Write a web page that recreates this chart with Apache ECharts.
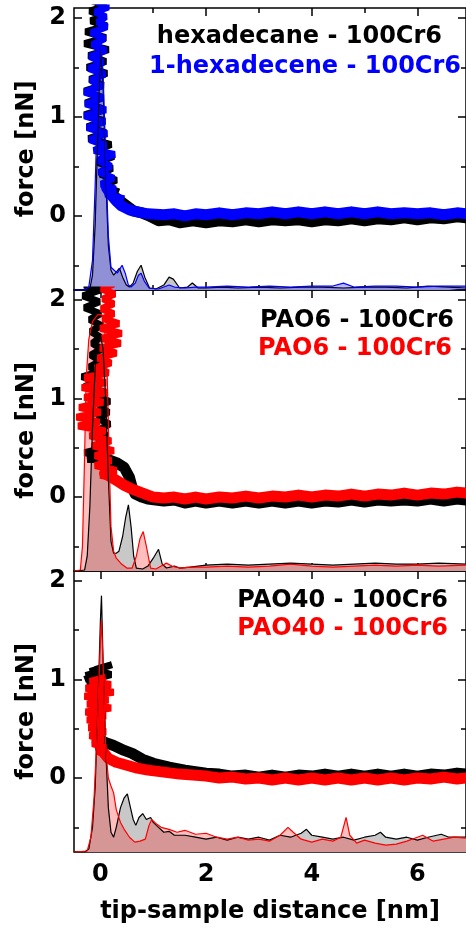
<!DOCTYPE html>
<html><head><meta charset="utf-8">
<script src="https://cdn.jsdelivr.net/npm/echarts@6/dist/echarts.min.js"></script>
<style>html,body{margin:0;padding:0;background:#fff}#c{width:466px;height:929px}</style>
</head><body><div id="c"></div>
<script>
// ---- tick values ----
const xMajorTicks = [0, 2, 4, 6];
const xMinorTicks = [1, 3, 5];
const yMajorTicks = [0, 1, 2];
const yMinorTicks = [-0.5, 0.5, 1.5];

// ---- panel titles ----
const panelLabels = [
  ['hexadecane - 100Cr6', '1-hexadecene - 100Cr6'],
  ['PAO6 - 100Cr6', 'PAO6 - 100Cr6'],
  ['PAO40 - 100Cr6', 'PAO40 - 100Cr6']
];

// ---- force-distance curves [distance nm, force nN] ----
// steep part: noisy scribble near contact; flat part: ribbon at larger distance
const hexForceSteep = [[0.05,2.2],[-0.15,2.17],[0.1,2.12],[-0.2,2.07],[0.05,2.02],[-0.18,1.97],[0.12,1.92],[-0.28,1.86],[0.1,1.8],[-0.3,1.74],[0.15,1.68],[-0.22,1.62],[0.1,1.56],[-0.25,1.5],[0.12,1.44],[-0.2,1.38],[0.05,1.32],[-0.3,1.26],[0.02,1.2],[-0.28,1.14],[0.05,1.08],[-0.3,1.02],[0.08,0.96],[-0.25,0.9],[0.1,0.84],[-0.22,0.78],[0.2,0.72],[-0.08,0.66],[0.25,0.6],[-0.05,0.54],[0.22,0.48],[0.0,0.42],[0.3,0.36],[0.05,0.3],[0.35,0.24]];
const hexForceFlat = [[0.12,0.32],[0.25,0.2],[0.4,0.14],[0.55,0.08],[0.62,0.05],[0.78,0.03],[0.92,0.0],[1.1,-0.05],[1.3,-0.04],[1.5,-0.07],[1.75,-0.05],[2.0,-0.07],[2.25,-0.05],[2.5,-0.06],[2.75,-0.04],[3.0,-0.06],[3.25,-0.04],[3.5,-0.05],[3.75,-0.04],[4.0,-0.06],[4.25,-0.04],[4.5,-0.05],[4.75,-0.03],[5.0,-0.05],[5.25,-0.03],[5.5,-0.04],[5.75,-0.02],[6.0,-0.04],[6.25,-0.02],[6.5,-0.03],[6.75,-0.01],[6.92,-0.02]];
const hexeneForceSteep = [[0.12,2.2],[-0.08,2.16],[0.15,2.11],[-0.1,2.06],[0.1,2.01],[-0.05,1.96],[0.12,1.91],[-0.17,1.85],[0.08,1.79],[-0.15,1.73],[0.1,1.67],[-0.2,1.61],[0.05,1.55],[-0.22,1.49],[0.08,1.43],[-0.18,1.37],[0.02,1.31],[-0.3,1.25],[0.05,1.19],[-0.28,1.13],[0.1,1.07],[-0.3,1.01],[0.08,0.95],[-0.25,0.89],[0.12,0.83],[-0.2,0.77],[0.1,0.71],[-0.12,0.66],[0.27,0.62],[-0.05,0.56],[0.2,0.5],[-0.02,0.44],[0.25,0.38],[0.02,0.32],[0.28,0.27],[0.1,0.22],[0.45,0.17]];
const hexeneForceFlat = [[0.12,0.28],[0.22,0.2],[0.3,0.15],[0.4,0.1],[0.55,0.06],[0.7,0.04],[0.9,0.02],[1.2,0.01],[1.4,0.02],[1.6,0.0],[1.8,0.02],[2.0,0.01],[2.25,0.03],[2.5,0.01],[2.75,0.03],[3.0,0.02],[3.25,0.04],[3.5,0.02],[3.75,0.04],[4.0,0.02],[4.25,0.04],[4.5,0.02],[4.75,0.04],[5.0,0.02],[5.25,0.04],[5.5,0.02],[5.75,0.03],[6.0,0.02],[6.25,0.03],[6.5,0.01],[6.75,0.03],[6.92,0.02]];
const pao6ForceBlackSteep = [[-0.05,2.2],[-0.3,2.15],[0.0,2.1],[-0.33,2.04],[-0.02,1.98],[-0.3,1.92],[0.0,1.86],[-0.2,1.8],[0.02,1.74],[-0.18,1.68],[0.0,1.62],[-0.15,1.56],[0.02,1.5],[-0.18,1.44],[0.0,1.38],[-0.2,1.32],[-0.02,1.27],[-0.35,1.22],[-0.05,1.17],[-0.3,1.12],[0.05,1.07],[-0.05,1.02],[0.17,0.97],[-0.03,0.92],[0.15,0.86],[-0.05,0.8],[0.17,0.74],[-0.02,0.68],[0.12,0.62],[-0.05,0.56],[0.1,0.5],[-0.3,0.45],[0.05,0.41],[-0.25,0.38],[0.1,0.38]];
const pao6ForceBlackFlat = [[0.0,0.4],[0.15,0.38],[0.3,0.35],[0.45,0.3],[0.55,0.2],[0.6,0.1],[0.66,0.03],[0.78,0.0],[0.9,-0.02],[1.2,-0.04],[1.4,-0.03],[1.6,-0.06],[1.8,-0.04],[2.0,-0.06],[2.25,-0.04],[2.5,-0.06],[2.75,-0.04],[3.0,-0.06],[3.25,-0.04],[3.5,-0.06],[3.75,-0.04],[4.0,-0.06],[4.25,-0.04],[4.5,-0.05],[4.75,-0.03],[5.0,-0.05],[5.25,-0.03],[5.5,-0.04],[5.75,-0.03],[6.0,-0.04],[6.25,-0.02],[6.5,-0.04],[6.75,-0.02],[6.92,-0.03]];
const pao6ForceRedSteep = [[0.1,2.2],[0.25,2.16],[0.02,2.11],[0.27,2.06],[0.05,2.01],[0.25,1.96],[0.02,1.91],[0.25,1.86],[0.05,1.81],[0.35,1.76],[0.0,1.71],[0.4,1.66],[0.02,1.61],[0.38,1.56],[0.0,1.51],[0.3,1.46],[-0.05,1.41],[0.2,1.36],[-0.1,1.31],[0.15,1.26],[-0.3,1.21],[0.1,1.16],[-0.35,1.11],[0.12,1.06],[-0.3,1.01],[0.05,0.96],[-0.4,0.91],[0.0,0.86],[-0.45,0.81],[-0.02,0.76],[-0.42,0.72],[0.1,0.67],[-0.2,0.62],[0.2,0.57],[-0.15,0.52],[0.25,0.47],[-0.1,0.42],[0.2,0.37],[-0.1,0.32],[0.3,0.27],[0.0,0.22],[0.3,0.19]];
const pao6ForceRedFlat = [[0.08,0.24],[0.3,0.17],[0.45,0.12],[0.6,0.08],[0.8,0.04],[1.0,0.0],[1.2,-0.01],[1.4,0.0],[1.6,-0.02],[1.8,0.0],[2.0,-0.02],[2.25,0.0],[2.5,-0.01],[2.75,0.01],[3.0,-0.01],[3.25,0.01],[3.5,0.0],[3.75,0.02],[4.0,0.0],[4.25,0.02],[4.5,0.01],[4.75,0.03],[5.0,0.01],[5.25,0.03],[5.5,0.02],[5.75,0.04],[6.0,0.02],[6.25,0.04],[6.5,0.03],[6.75,0.05],[6.92,0.04]];
const pao40ForceBlackSteep = [[-0.3,1.0],[0.0,1.06],[-0.28,1.04],[0.1,1.1],[-0.2,1.08],[0.22,1.15],[-0.1,1.1],[0.2,1.05],[-0.25,0.98],[0.18,0.94],[-0.22,0.9],[0.05,0.86],[-0.2,0.82],[0.02,0.77],[-0.18,0.72],[0.0,0.67],[-0.2,0.62],[0.02,0.57],[-0.15,0.52],[0.05,0.47],[-0.12,0.42],[0.1,0.38]];
const pao40ForceBlackFlat = [[-0.05,0.4],[0.1,0.36],[0.25,0.33],[0.45,0.28],[0.6,0.25],[0.8,0.19],[1.0,0.15],[1.3,0.11],[1.6,0.08],[2.0,0.05],[2.25,0.04],[2.5,0.02],[2.75,0.03],[3.0,0.01],[3.25,0.03],[3.5,0.01],[3.75,0.03],[4.0,0.02],[4.25,0.04],[4.5,0.02],[4.75,0.04],[5.0,0.02],[5.25,0.04],[5.5,0.02],[5.75,0.04],[6.0,0.02],[6.25,0.04],[6.5,0.03],[6.75,0.05],[6.92,0.04]];
const pao40ForceRedSteep = [[0.1,1.02],[-0.2,0.98],[0.2,0.95],[-0.28,0.91],[0.25,0.87],[-0.3,0.83],[0.15,0.79],[-0.25,0.75],[0.2,0.71],[-0.28,0.67],[0.1,0.63],[-0.25,0.59],[0.08,0.55],[-0.22,0.51],[0.1,0.47],[-0.2,0.43],[0.05,0.39],[-0.15,0.35],[0.1,0.31],[-0.05,0.27],[0.15,0.22]];
const pao40ForceRedFlat = [[0.0,0.3],[0.15,0.2],[0.3,0.16],[0.5,0.13],[0.7,0.1],[0.9,0.08],[1.2,0.06],[1.5,0.04],[1.75,0.03],[2.0,0.02],[2.25,0.0],[2.5,0.01],[2.75,-0.01],[3.0,0.0],[3.25,-0.02],[3.5,0.0],[3.75,-0.02],[4.0,0.0],[4.25,-0.02],[4.5,0.0],[4.75,-0.02],[5.0,0.0],[5.25,-0.02],[5.5,0.0],[5.75,-0.02],[6.0,0.0],[6.25,-0.01],[6.5,0.01],[6.75,-0.01],[6.92,0.0]];

// ---- distributions (filled, drawn from axis bottom) ----
const hexHist = [[-0.5,-0.75],[-0.3,-0.75],[-0.2,-0.74],[-0.15,-0.6],[-0.1,-0.1],[-0.05,0.8],[0.0,1.72],[0.05,1.3],[0.1,0.4],[0.15,-0.3],[0.2,-0.55],[0.25,-0.6],[0.3,-0.57],[0.36,-0.53],[0.42,-0.62],[0.49,-0.7],[0.55,-0.72],[0.62,-0.68],[0.7,-0.56],[0.77,-0.5],[0.84,-0.62],[0.93,-0.73],[1.05,-0.74],[1.2,-0.7],[1.3,-0.62],[1.38,-0.64],[1.5,-0.73],[1.65,-0.72],[1.74,-0.68],[1.85,-0.73],[2.0,-0.73],[2.3,-0.72],[2.6,-0.73],[3.0,-0.72],[3.4,-0.73],[3.8,-0.72],[4.2,-0.72],[4.6,-0.73],[5.0,-0.72],[5.4,-0.72],[5.8,-0.73],[6.2,-0.71],[6.6,-0.72],[6.92,-0.73]];
const hexeneHist = [[-0.5,-0.75],[-0.3,-0.75],[-0.22,-0.72],[-0.15,-0.45],[-0.1,0.3],[-0.05,1.2],[0.0,1.8],[0.05,1.45],[0.1,0.6],[0.15,-0.2],[0.2,-0.52],[0.26,-0.55],[0.32,-0.58],[0.41,-0.5],[0.47,-0.58],[0.53,-0.7],[0.58,-0.72],[0.66,-0.68],[0.72,-0.6],[0.77,-0.58],[0.83,-0.66],[0.92,-0.73],[1.1,-0.74],[1.3,-0.7],[1.4,-0.72],[1.6,-0.73],[1.8,-0.72],[2.0,-0.72],[2.4,-0.71],[2.8,-0.72],[3.2,-0.71],[3.6,-0.72],[4.0,-0.71],[4.4,-0.71],[4.6,-0.68],[4.8,-0.72],[5.2,-0.71],[5.6,-0.71],[6.0,-0.72],[6.4,-0.71],[6.92,-0.71]];
const pao6HistBlack = [[-0.5,-0.75],[-0.3,-0.74],[-0.25,-0.6],[-0.2,-0.1],[-0.15,0.7],[-0.1,1.3],[-0.05,1.6],[0.0,1.65],[0.05,1.5],[0.1,1.0],[0.15,0.2],[0.2,-0.45],[0.25,-0.57],[0.3,-0.57],[0.35,-0.55],[0.42,-0.4],[0.48,-0.2],[0.53,-0.08],[0.58,-0.3],[0.63,-0.6],[0.68,-0.72],[0.8,-0.73],[0.9,-0.7],[1.0,-0.62],[1.1,-0.53],[1.17,-0.68],[1.25,-0.72],[1.4,-0.7],[1.5,-0.72],[1.7,-0.71],[2.0,-0.69],[2.4,-0.68],[2.8,-0.69],[3.2,-0.68],[3.6,-0.67],[4.0,-0.68],[4.4,-0.69],[4.8,-0.68],[5.2,-0.67],[5.6,-0.68],[6.0,-0.68],[6.4,-0.67],[6.92,-0.68]];
const pao6HistRed = [[-0.5,-0.75],[-0.38,-0.74],[-0.34,-0.5],[-0.3,0.4],[-0.27,1.2],[-0.22,1.6],[-0.15,1.78],[-0.05,1.85],[0.03,1.85],[0.08,1.7],[0.13,1.2],[0.17,0.3],[0.2,-0.3],[0.25,-0.55],[0.3,-0.62],[0.4,-0.68],[0.5,-0.72],[0.6,-0.72],[0.68,-0.6],[0.75,-0.42],[0.81,-0.35],[0.87,-0.5],[0.95,-0.72],[1.05,-0.73],[1.15,-0.7],[1.25,-0.67],[1.35,-0.7],[1.5,-0.72],[1.7,-0.71],[2.0,-0.71],[2.4,-0.7],[2.8,-0.71],[3.2,-0.7],[3.6,-0.68],[4.0,-0.7],[4.4,-0.71],[4.8,-0.7],[5.2,-0.69],[5.6,-0.7],[6.0,-0.69],[6.4,-0.7],[6.92,-0.69]];
const pao40HistBlack = [[-0.5,-0.75],[-0.3,-0.75],[-0.22,-0.72],[-0.15,-0.5],[-0.1,-0.1],[-0.05,0.7],[0.0,1.6],[0.02,1.85],[0.05,1.2],[0.1,0.3],[0.15,-0.3],[0.2,-0.55],[0.25,-0.6],[0.3,-0.5],[0.38,-0.3],[0.45,-0.2],[0.51,-0.16],[0.56,-0.28],[0.62,-0.42],[0.67,-0.48],[0.73,-0.4],[0.8,-0.36],[0.87,-0.42],[0.95,-0.4],[1.0,-0.45],[1.1,-0.5],[1.2,-0.55],[1.3,-0.54],[1.4,-0.58],[1.6,-0.58],[1.8,-0.6],[2.0,-0.62],[2.2,-0.6],[2.4,-0.63],[2.6,-0.6],[2.8,-0.62],[3.0,-0.6],[3.2,-0.63],[3.4,-0.58],[3.6,-0.6],[3.8,-0.56],[3.9,-0.52],[4.0,-0.58],[4.2,-0.6],[4.4,-0.62],[4.6,-0.6],[4.8,-0.63],[5.0,-0.6],[5.2,-0.58],[5.3,-0.55],[5.4,-0.6],[5.6,-0.62],[5.8,-0.6],[6.0,-0.63],[6.2,-0.6],[6.45,-0.57],[6.6,-0.6],[6.92,-0.6]];
const pao40HistRed = [[-0.5,-0.75],[-0.25,-0.74],[-0.18,-0.6],[-0.12,-0.2],[-0.06,0.5],[0.0,1.4],[0.02,1.6],[0.06,1.0],[0.1,0.3],[0.15,0.0],[0.2,-0.08],[0.25,-0.15],[0.3,-0.32],[0.38,-0.45],[0.45,-0.52],[0.55,-0.6],[0.65,-0.65],[0.75,-0.64],[0.85,-0.62],[0.92,-0.48],[0.97,-0.42],[1.05,-0.46],[1.15,-0.5],[1.3,-0.52],[1.45,-0.55],[1.6,-0.53],[1.8,-0.57],[2.0,-0.56],[2.2,-0.6],[2.4,-0.62],[2.6,-0.6],[2.8,-0.63],[3.0,-0.62],[3.2,-0.64],[3.4,-0.58],[3.55,-0.5],[3.65,-0.55],[3.8,-0.62],[4.0,-0.65],[4.2,-0.62],[4.4,-0.64],[4.55,-0.6],[4.65,-0.4],[4.72,-0.58],[4.85,-0.66],[5.0,-0.63],[5.2,-0.66],[5.4,-0.68],[5.6,-0.67],[5.8,-0.64],[6.0,-0.6],[6.1,-0.58],[6.3,-0.64],[6.5,-0.62],[6.7,-0.6],[6.92,-0.61]];

const panels = [
  {force: [[hexForceSteep, hexForceFlat], [hexeneForceSteep, hexeneForceFlat]], hist: [hexHist, hexeneHist], color: '#0000ff', fill: 'rgba(0,0,255,0.28)'},
  {force: [[pao6ForceBlackSteep, pao6ForceBlackFlat], [pao6ForceRedSteep, pao6ForceRedFlat]], hist: [pao6HistBlack, pao6HistRed], color: '#ff0000', fill: 'rgba(255,0,0,0.25)'},
  {force: [[pao40ForceBlackSteep, pao40ForceBlackFlat], [pao40ForceRedSteep, pao40ForceRedFlat]], hist: [pao40HistBlack, pao40HistRed], color: '#ff0000', fill: 'rgba(255,0,0,0.25)'}
];

const FONT = '"DejaVu Sans", sans-serif';
const gridTops = [8, 290, 571];
const gridH = [282, 281, 281];

const grids = [], xAxes = [], yAxes = [], series = [];
const noLine = {show: false, onZero: false};
panels.forEach((p, g) => {
  grids.push({left: 74, top: gridTops[g], width: 393, height: gridH[g], show: true,
    borderColor: '#000', borderWidth: 1.5, backgroundColor: 'transparent'});
  const xBase = {type: 'value', gridIndex: g, min: -0.5, max: 6.92, axisLine: noLine, splitLine: {show: false}};
  const last = g === 2;
  const tick = (vals, len) => ({show: true, inside: true, length: len, customValues: vals, lineStyle: {color: '#000', width: 1.5}});
  xAxes.push(Object.assign({}, xBase, {position: 'bottom', axisTick: tick(xMajorTicks, 8),
    axisLabel: {show: last, customValues: xMajorTicks, margin: 11, color: '#000', fontFamily: FONT, fontWeight: 'bold', fontSize: 24},
    name: last ? 'tip-sample distance [nm]' : '', nameLocation: 'middle', nameGap: 48,
    nameTextStyle: {color: '#000', fontFamily: FONT, fontWeight: 'bold', fontSize: 24}}));
  xAxes.push(Object.assign({}, xBase, {position: 'bottom', axisTick: tick(xMinorTicks, 5), axisLabel: {show: false}}));
  xAxes.push(Object.assign({}, xBase, {position: 'top', axisTick: tick(xMajorTicks, 8), axisLabel: {show: false}}));
  xAxes.push(Object.assign({}, xBase, {position: 'top', axisTick: tick(xMinorTicks, 5), axisLabel: {show: false}}));
  const yBase = {type: 'value', gridIndex: g, min: -0.75, max: 2.1, axisLine: noLine, splitLine: {show: false}};
  yAxes.push(Object.assign({}, yBase, {position: 'left', axisTick: tick(yMajorTicks, 8),
    axisLabel: {show: true, customValues: yMajorTicks, margin: 8, color: '#000', fontFamily: FONT, fontWeight: 'bold', fontSize: 24},
    name: 'force [nN]', nameLocation: 'middle', nameGap: 21,
    nameTextStyle: {color: '#000', fontFamily: FONT, fontWeight: 'bold', fontSize: 24}}));
  yAxes.push(Object.assign({}, yBase, {position: 'left', axisTick: tick(yMinorTicks, 5), axisLabel: {show: false}}));
  yAxes.push(Object.assign({}, yBase, {position: 'right', axisTick: tick(yMajorTicks, 8), axisLabel: {show: false}}));
  yAxes.push(Object.assign({}, yBase, {position: 'right', axisTick: tick(yMinorTicks, 5), axisLabel: {show: false}}));

  const xi = g * 4, yi = g * 4;
  const common = {type: 'line', xAxisIndex: xi, yAxisIndex: yi, showSymbol: false, symbol: 'none', animation: false, silent: true, clip: true};
  series.push(Object.assign({}, common, {data: p.hist[0], z: 1, lineStyle: {width: 0},
    areaStyle: {color: '#c8c8c8', opacity: 1, origin: 'start'}}));
  series.push(Object.assign({}, common, {data: p.hist[1], z: 1, lineStyle: {width: 0},
    areaStyle: {color: p.fill, opacity: 1, origin: 'start'}}));
  [0, 1].forEach(k => {
    const col = k === 0 ? '#000' : p.color;
    series.push(Object.assign({}, common, {data: p.force[k][0], z: 2,
      lineStyle: {color: col, width: 7, join: 'bevel'}}));
    series.push(Object.assign({}, common, {data: p.force[k][1], z: 2,
      lineStyle: {color: col, width: 11, join: 'round', cap: 'round'}}));
  });
  series.push(Object.assign({}, common, {data: p.hist[0], z: 3, lineStyle: {color: '#000', width: 1.2}}));
  series.push(Object.assign({}, common, {data: p.hist[1], z: 3, lineStyle: {color: p.color, width: 1.2}}));
});

const labelPos = [
  [[442, 37], [461, 67]],
  [[454, 321], [452, 349]],
  [[448, 601], [448, 629]]
];
const graphics = [];
panels.forEach((p, g) => {
  [0, 1].forEach(k => {
    graphics.push({type: 'text', z: 100, x: labelPos[g][k][0], y: labelPos[g][k][1],
      style: {text: panelLabels[g][k], fill: k === 0 ? '#000' : p.color,
        font: 'bold 24px ' + FONT, textAlign: 'right', textVerticalAlign: 'middle'}});
  });
});

const chart = echarts.init(document.getElementById('c'), null, {renderer: 'canvas'});
chart.setOption({animation: false, backgroundColor: '#fff', grid: grids, xAxis: xAxes, yAxis: yAxes, series: series, graphic: graphics});
</script></body></html>
